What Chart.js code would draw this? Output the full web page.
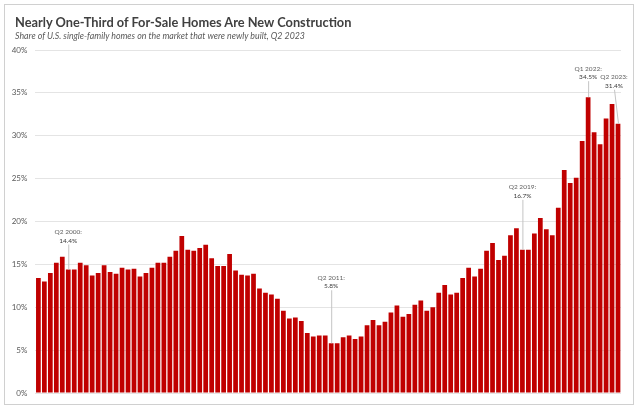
<!DOCTYPE html>
<html>
<head>
<meta charset="utf-8">
<title>New construction share</title>
<script src="https://cdn.jsdelivr.net/npm/chart.js@4.4.0/dist/chart.umd.min.js"></script>
<style>
  html, body { margin: 0; padding: 0; background: #fff; }
  #wrap { position: relative; width: 638px; height: 411px; overflow: hidden; font-family: Lato, "Open Sans", sans-serif; }
  #frame { position: absolute; left: 4px; top: 4px; width: 630px; height: 401px; box-sizing: border-box; border: 1px solid #d0d0d0; }
  #title { position: absolute; left: 15px; top: 14px; font-size: 12.8px; font-weight: bold; color: #404040; white-space: nowrap; }
  #subtitle { position: absolute; left: 15px; top: 30px; font-size: 8.8px; font-style: italic; color: #595959; white-space: nowrap; }
  #chart { position: absolute; left: 0; top: 0; }
</style>
</head>
<body>
<div id="wrap">
  <div id="frame"></div>
  <canvas id="chart" width="638" height="411"></canvas>
  <div id="title">Nearly One-Third of For-Sale Homes Are New Construction</div>
  <div id="subtitle">Share of U.S. single-family homes on the market that were newly built, Q2 2023</div>
</div>
<script>
// quarters Q1 1999 .. Q2 2023
const years = [1999, 2000, 2001, 2002, 2003, 2004, 2005, 2006, 2007, 2008, 2009, 2010, 2011,
  2012, 2013, 2014, 2015, 2016, 2017, 2018, 2019, 2020, 2021, 2022, 2023];
const lastQuarter = 2; // 2023 only has Q1, Q2

// share of for-sale homes that are newly built (%)
const shares = [
  13.4, 13.0, 14.0, 15.2,   // 1999
  15.9, 14.4, 14.4, 15.2,   // 2000
  14.9, 13.7, 14.0, 14.9,   // 2001
  14.1, 13.9, 14.6, 14.4,   // 2002
  14.5, 13.6, 14.0, 14.6,   // 2003
  15.2, 15.2, 15.9, 16.6,   // 2004
  18.3, 16.7, 16.6, 16.9,   // 2005
  17.3, 15.7, 14.8, 14.8,   // 2006
  16.2, 14.3, 13.8, 13.7,   // 2007
  13.9, 12.2, 11.7, 11.5,   // 2008
  11.0, 9.6, 8.7, 8.8,      // 2009
  8.4, 7.0, 6.6, 6.7,       // 2010
  6.7, 5.8, 5.8, 6.5,       // 2011
  6.7, 6.3, 6.6, 7.9,       // 2012
  8.5, 7.9, 8.3, 9.4,       // 2013
  10.2, 8.9, 9.2, 10.3,     // 2014
  10.8, 9.6, 10.0, 11.7,    // 2015
  12.6, 11.5, 11.7, 13.4,   // 2016
  14.6, 13.6, 14.5, 16.6,   // 2017
  17.5, 15.5, 16.0, 18.4,   // 2018
  19.2, 16.7, 16.7, 18.6,   // 2019
  20.4, 19.1, 18.4, 21.6,   // 2020
  26.0, 24.5, 25.1, 29.4,   // 2021
  34.5, 30.4, 29.0, 32.0,   // 2022
  33.7, 31.4                // 2023
];

const yTicks = [0, 5, 10, 15, 20, 25, 30, 35, 40];

const quarters = [];
years.forEach(yr => {
  const n = yr === 2023 ? lastQuarter : 4;
  for (let q = 1; q <= n; q++) quarters.push('Q' + q + ' ' + yr);
});

// labelled bars: which quarter, and how the callout sits above it
const callouts = [
  { label: 'Q2 2000', lift: 25, dx: 0 },
  { label: 'Q2 2011', lift: 53, dx: 0 },
  { label: 'Q2 2019', lift: 50, dx: 0 },
  { label: 'Q1 2022', lift: 16, dx: 0 },
  { label: 'Q2 2023', lift: 34, dx: -4 }
];

const calloutPlugin = {
  id: 'callouts',
  afterDatasetsDraw(chart) {
    const ctx = chart.ctx;
    const xs = chart.scales.x, ys = chart.scales.y;
    ctx.save();
    callouts.forEach(c => {
      const i = quarters.indexOf(c.label);
      const px = xs.getPixelForValue(i);
      const py = ys.getPixelForValue(shares[i]);
      const tx = px + c.dx;
      const top = py - c.lift;
      ctx.strokeStyle = '#c4c4c4';
      ctx.lineWidth = 1;
      ctx.beginPath();
      ctx.moveTo(tx + 0.5, top);
      ctx.lineTo(px + 0.5, py);
      ctx.stroke();
      ctx.textAlign = 'center';
      ctx.textBaseline = 'middle';
      ctx.font = '6.5px Lato';
      ctx.fillStyle = '#606060';
      ctx.fillText(c.label + ':', tx, top - 12.5);
      ctx.fillStyle = '#3a3a3a';
      ctx.fillText(shares[i].toFixed(1) + '%', tx, top - 4);
    });
    ctx.restore();
  }
};

new Chart(document.getElementById('chart'), {
  type: 'bar',
  data: {
    labels: quarters,
    datasets: [{
      data: shares,
      backgroundColor: '#c00000',
      barPercentage: 0.79,
      categoryPercentage: 1
    }]
  },
  options: {
    responsive: false,
    animation: false,
    events: [],
    layout: { padding: { top: 50, bottom: 18, left: 0, right: 17 } },
    plugins: { legend: { display: false }, tooltip: { enabled: false } },
    scales: {
      x: { display: false },
      y: {
        min: 0,
        max: 40,
        afterBuildTicks: s => { s.ticks = yTicks.map(v => ({ value: v })); },
        afterFit: s => { s.width = 35.4; },
        border: { display: false },
        grid: { color: '#e4e4e4', drawTicks: false },
        ticks: {
          padding: 8,
          color: '#595959',
          font: { family: 'Lato', size: 8 },
          callback: v => v + '%'
        }
      }
    }
  },
  plugins: [calloutPlugin]
});
</script>
</body>
</html>
